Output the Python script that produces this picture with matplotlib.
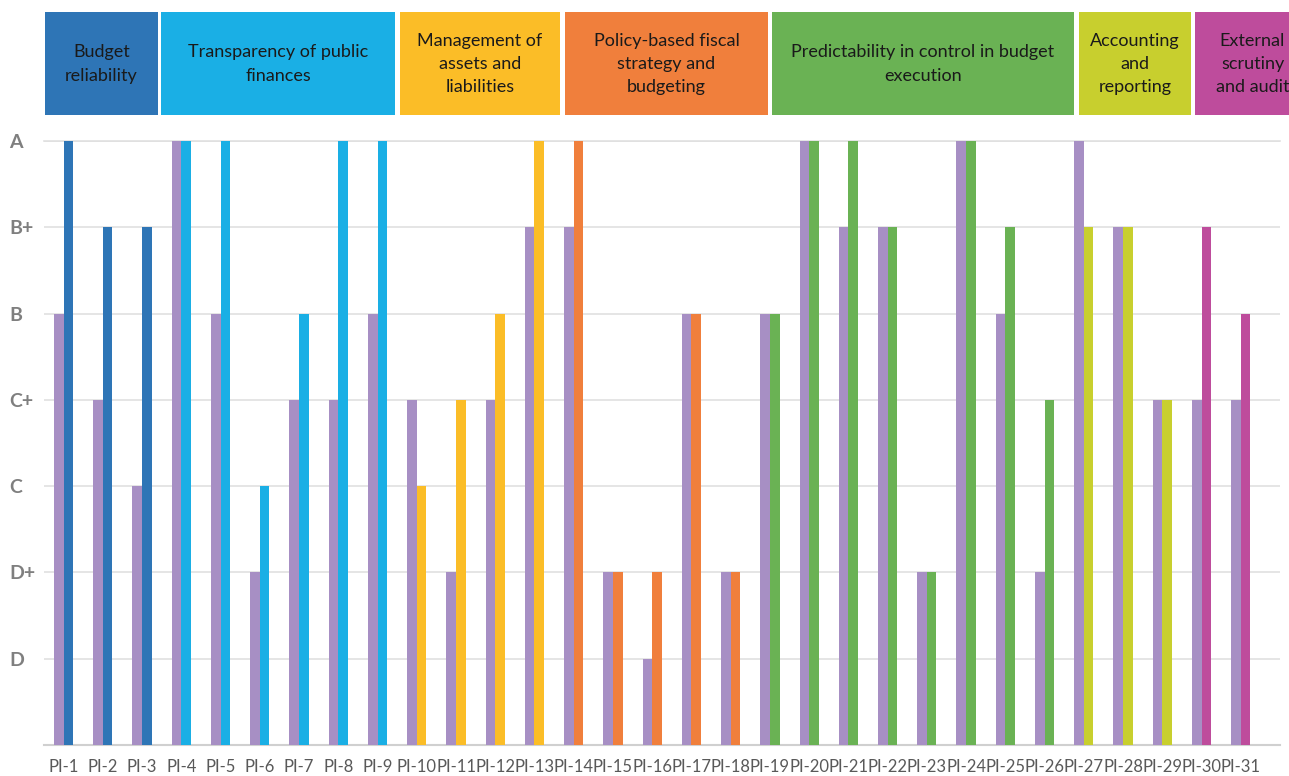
import matplotlib
matplotlib.use("Agg")
import matplotlib.pyplot as plt
from matplotlib.patches import Rectangle

plt.rcParams['font.family'] = ['Lato', 'DejaVu Sans']

# grade scale, bottom to top
grades = ['D', 'D+', 'C', 'C+', 'B', 'B+', 'A']
score = {g: i + 1 for i, g in enumerate(grades)}

indicators = ['PI-%d' % i for i in range(1, 32)]
previous = ['B', 'C+', 'C', 'A', 'B', 'D+', 'C+', 'C+', 'B',
            'C+', 'D+', 'C+', 'B+',
            'B+', 'D+', 'D', 'B', 'D+',
            'B', 'A', 'B+', 'B+', 'D+', 'A', 'B', 'D+',
            'A', 'B+', 'C+',
            'C+', 'C+']
current = ['A', 'B+', 'B+', 'A', 'A', 'C', 'B', 'A', 'A',
           'C', 'C+', 'B', 'A',
           'A', 'D+', 'D+', 'B', 'D+',
           'B', 'A', 'A', 'B+', 'D+', 'A', 'B+', 'C+',
           'B+', 'B+', 'C+',
           'B+', 'B']

groups = ['Budget\nreliability', 'Transparency of public\nfinances',
          'Management of\nassets and\nliabilities',
          'Policy-based fiscal\nstrategy and\nbudgeting',
          'Predictability in control in budget\nexecution',
          'Accounting\nand\nreporting', 'External\nscrutiny\nand audit']
group_sizes = [3, 6, 4, 5, 8, 3, 2]
group_colors = ['#2E75B6', '#1AAFE5', '#FBBD27', '#F07F3C', '#6AB254', '#C8CF2E', '#BE4C9C']
prev_color = '#A78FC4'

# header box edges in pixels (hand placed in the original, last one runs off the edge)
box_edges = [(45, 158), (161, 395), (400, 560), (565, 768), (772, 1074), (1079, 1191), (1195, 1310)]

W, H = 1289, 776
fig = plt.figure(figsize=(W / 100, H / 100), dpi=100)
ax = fig.add_axes([44 / W, 31 / H, (1280 - 44) / W, (745 - 141) / H])

cur_colors = []
for c, n in zip(group_colors, group_sizes):
    cur_colors += [c] * n

x = list(range(len(indicators)))
bw = 0.245
ax.bar([i - bw / 2 for i in x], [score[g] for g in previous], width=bw, color=prev_color, zorder=3)
ax.bar([i + bw / 2 for i in x], [score[g] for g in current], width=bw, color=cur_colors, zorder=3)

ax.set_xlim(-0.5, 31.0)
ax.set_ylim(0, 7)
ax.set_yticks(range(1, 8))
ax.set_yticklabels(grades, fontsize=14, fontweight='bold', color='#7F7F7F')
for lab in ax.get_yticklabels():
    lab.set_ha('left')
ax.tick_params(axis='y', length=0, pad=25)
ax.set_xticks(x)
ax.set_xticklabels(indicators, fontsize=12, color='#595959')
ax.tick_params(axis='x', length=0, pad=10)
ax.grid(axis='y', color='#E0E0E0', linewidth=1.2, zorder=0)
ax.axhline(7, color='#E0E0E0', linewidth=1.2, zorder=0, clip_on=False)
for s in ['top', 'right', 'left']:
    ax.spines[s].set_visible(False)
ax.spines['bottom'].set_color('#D0D0D0')
ax.spines['bottom'].set_linewidth(1.5)

for (x0, x1), name, col in zip(box_edges, groups, group_colors):
    fig.patches.append(Rectangle((x0 / W, 1 - 115 / H), (x1 - x0) / W, (115 - 12) / H,
                                 transform=fig.transFigure, facecolor=col, edgecolor='none'))
    fig.text((x0 + x1) / 2 / W, 1 - 64 / H, name, ha='center', va='center', fontsize=13,
             color='#1A1A1A', linespacing=1.55)

fig.savefig('out.png', dpi=100)
